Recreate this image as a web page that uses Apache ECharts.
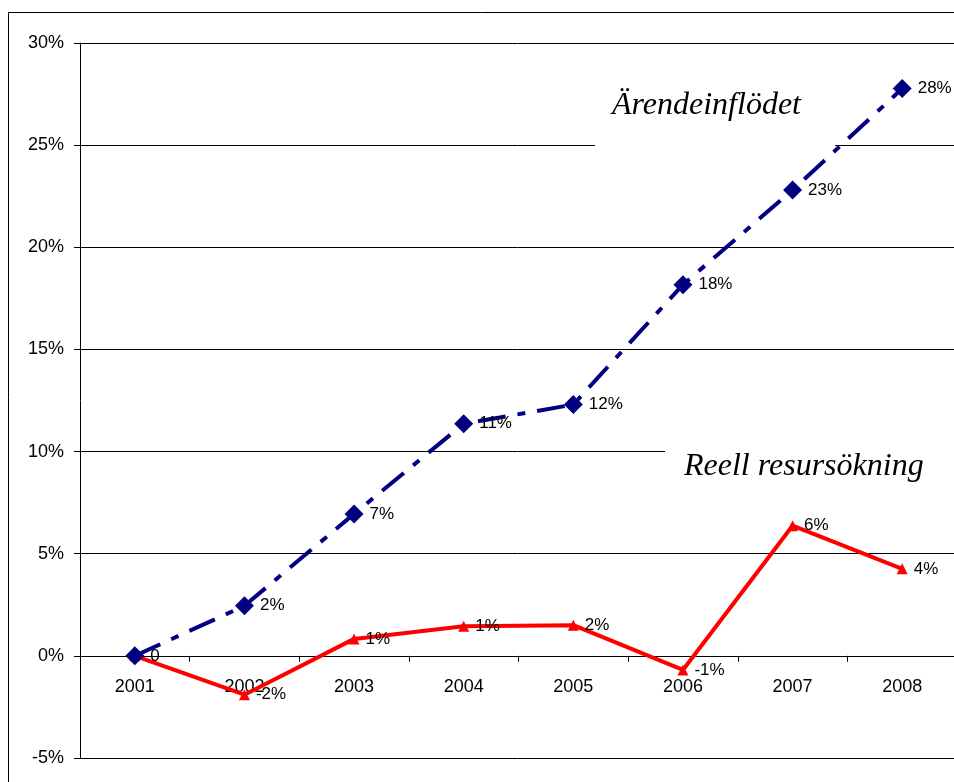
<!DOCTYPE html>
<html><head><meta charset="utf-8">
<script src="https://cdn.jsdelivr.net/npm/echarts@6/dist/echarts.min.js"></script>
<style>html,body{margin:0;padding:0;background:#fff}#c{width:954px;height:782px}</style>
</head><body><div id="c"></div>
<script>
const years = ['2001','2002','2003','2004','2005','2006','2007','2008'];
const arendeValues = [0, 2.45, 6.95, 11.36, 12.3, 18.17, 22.8, 27.77];
const arendeLabels = ['0','2%','7%','11%','12%','18%','23%','28%'];
const resursValues = [0, -1.9, 0.83, 1.45, 1.5, -0.69, 6.37, 4.26];
const resursLabels = ['','-2%','1%','1%','2%','-1%','6%','4%'];
const yTicks = [-5, 0, 5, 10, 15, 20, 25, 30];

const H = 782, TOP = 43, BOTTOM = 24;
const yMin = -5, yMax = 30;
// distance from grid bottom to the zero line, used to pull the category labels up under the zero axis
const zeroOffset = (H - TOP - BOTTOM) * (0 - yMin) / (yMax - yMin);

const chart = echarts.init(document.getElementById('c'));
const lblFont = {fontFamily:'Liberation Sans, Arial', fontSize:17, color:'#000'};
chart.setOption({
  animation:false,
  backgroundColor:'#fff',
  grid:{left:80, right:-3, top:TOP, bottom:BOTTOM, containLabel:false, outerBoundsMode:'none'},
  xAxis:{type:'category', data:years, boundaryGap:true,
    axisLine:{onZero:true, lineStyle:{color:'#000', width:1}},
    axisTick:{show:true, inside:false, length:6, alignWithLabel:false, lineStyle:{color:'#000'}},
    axisLabel:Object.assign({}, lblFont, {fontSize:18, margin:22 - zeroOffset}),
    splitLine:{show:false}},
  yAxis:{type:'value', min:yMin, max:yMax, interval:5,
    axisLine:{show:true, onZero:false, lineStyle:{color:'#000'}},
    axisTick:{show:true, length:6, lineStyle:{color:'#000'}},
    axisLabel:Object.assign({margin:16, formatter:v=>yTicks.includes(v)? v+'%':''}, lblFont, {fontSize:18}),
    splitLine:{show:true, lineStyle:{color:'#000', width:1}}},
  graphic:[
    {type:'rect', shape:{x:8.5, y:12.5, width:960, height:800}, style:{fill:null, stroke:'#000', lineWidth:1}, z:5, silent:true},
    {type:'rect', left:595, top:80, shape:{width:240, height:70}, style:{fill:'#fff'}, z:1},
    {type:'text', left:612, top:90, style:{text:'Ärendeinflödet', font:'italic 32px "Liberation Serif", serif', fill:'#000'}, z:1},
    {type:'rect', left:665, top:440, shape:{width:300, height:55}, style:{fill:'#fff'}, z:1},
    {type:'text', left:684, top:451, style:{text:'Reell resursökning', font:'italic 32px "Liberation Serif", serif', fill:'#000'}, z:1}
  ],
  series:[
    {name:'Reell resursökning', type:'line', data:resursValues, z:3,
      lineStyle:{color:'#ff0000', width:4},
      itemStyle:{color:'#ff0000'},
      symbol:'triangle', symbolSize:11, showAllSymbol:true,
      label:Object.assign({show:true, position:'right', distance:6, formatter:p=>resursLabels[p.dataIndex]}, lblFont)},
    {name:'Ärendeinflödet', type:'line', data:arendeValues, z:4,
      lineStyle:{color:'#000080', width:4, type:[28,12,8,12]},
      itemStyle:{color:'#000080'},
      symbol:'diamond', symbolSize:19, showAllSymbol:true,
      label:Object.assign({show:true, position:'right', distance:6, formatter:p=>arendeLabels[p.dataIndex]}, lblFont)}
  ]
});
</script></body></html>
